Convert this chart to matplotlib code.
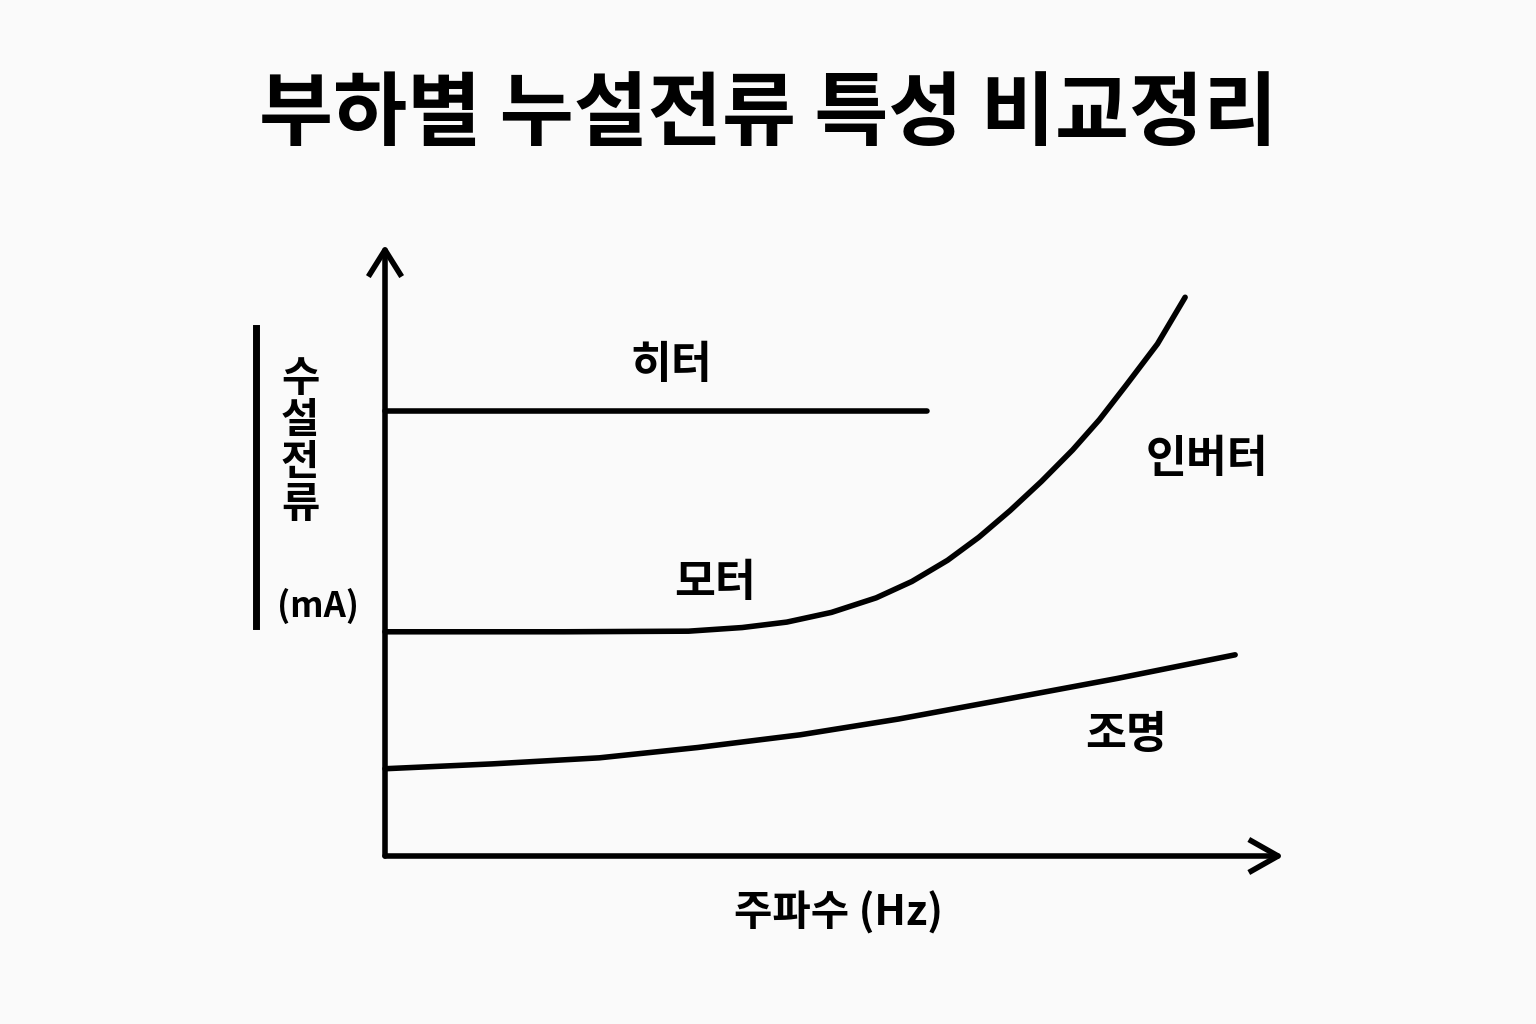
import matplotlib
matplotlib.use("Agg")
import matplotlib.pyplot as plt

plt.rcParams['font.family'] = ['Noto Sans CJK KR', 'DejaVu Sans']

title = "부하별 누설전류 특성 비교정리"
heater_x = [0, 60.7]
heater_y = [73.4, 73.4]
motor_x = [0, 20, 34, 40, 45, 50, 55, 59, 63, 66.5, 70, 73.5, 77, 80, 83, 86.5, 89.6]
motor_y = [37.0, 37.0, 37.1, 37.7, 38.6, 40.2, 42.6, 45.3, 48.8, 52.6, 57.0, 61.8, 67.0, 72.0, 77.7, 84.5, 92.2]
light_x = [0, 12, 24, 35, 46.5, 57.5, 68.9, 82, 95.2]
light_y = [14.4, 15.2, 16.2, 17.9, 20.0, 22.6, 25.7, 29.3, 33.2]
labels = {"히터": (32, 81), "모터": (37, 45), "인버터": (92, 65.5), "조명": (83, 20)}

fig = plt.figure(figsize=(15.36, 10.24), dpi=100)
fig.patch.set_facecolor('#fafafa')
ax = fig.add_axes([385/1536, 168/1024, 893/1536, 606/1024])
ax.set_facecolor('none')
ax.set_xlim(0, 100); ax.set_ylim(0, 100)
for s in ax.spines.values(): s.set_visible(False)
ax.set_xticks([]); ax.set_yticks([])

kw = dict(color='black', lw=4, solid_capstyle='round', clip_on=False)
ax.plot(heater_x, heater_y, **kw)
ax.plot(motor_x, motor_y, **kw)
ax.plot(light_x, light_y, **kw)

# axes with arrows
ax.plot([0, 0], [0, 100], **kw)
ax.plot([0, 100], [0, 0], **kw)
ax.plot([-1.7, 0, 1.7], [96, 100, 96], color='black', lw=4, clip_on=False, solid_joinstyle='round')
ax.plot([97, 100, 97], [2.5, 0, -2.5], color='black', lw=4, clip_on=False, solid_joinstyle='round')

for t, (x, y) in labels.items():
    ax.text(x, y, t, fontsize=32, fontweight='bold', ha='center', va='center')

fig.text(0.5, 1 - 115/1024, title, fontsize=58, fontweight='bold', ha='center', va='center')
fig.text(838/1536, 1 - 913/1024, "주파수 (Hz)", fontsize=30, fontweight='bold', ha='center', va='center')
fig.text(300/1536, 1 - 442/1024, "수\n설\n전\n류", fontsize=30, fontweight='bold', ha='center', va='center', linespacing=1.0)
fig.text(318/1536, 1 - 606/1024, "(mA)", fontsize=25, fontweight='bold', ha='center', va='center')
fig.add_artist(plt.Line2D([256/1536, 256/1536], [1 - 328/1024, 1 - 626/1024], color='black', lw=5))

fig.savefig("out.png", dpi=100, facecolor=fig.get_facecolor())
